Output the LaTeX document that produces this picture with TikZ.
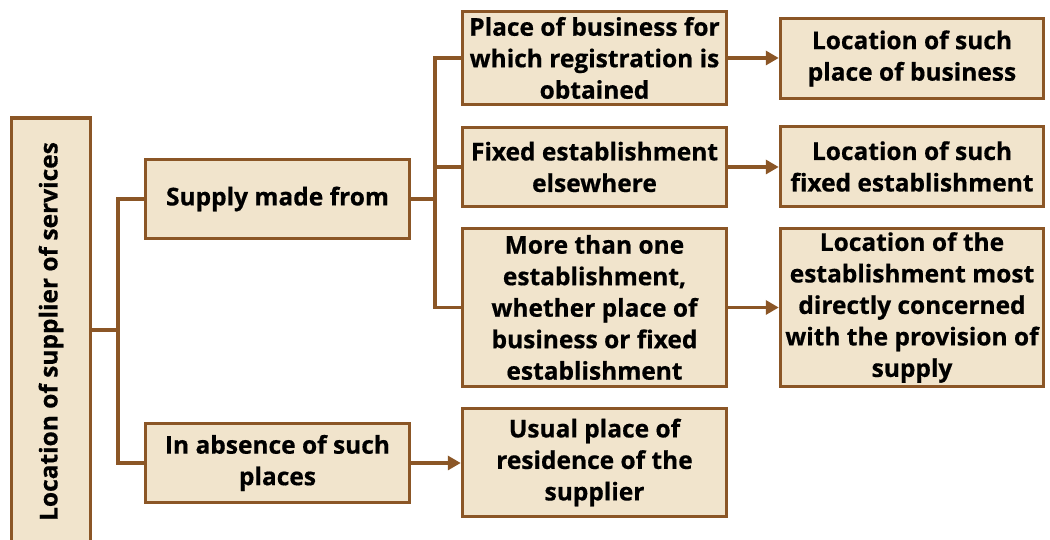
\documentclass[tikz,border=0pt]{standalone}
\usepackage{fontspec}
\setmainfont{Open Sans}[BoldFont={* Bold}, BoldFeatures={FakeBold=0.6}]
\usetikzlibrary{arrows.meta}
\definecolor{boxfill}{RGB}{241,228,204}
\definecolor{boxline}{RGB}{139,86,38}
\tikzset{
  box/.style={draw=boxline, fill=boxfill, line width=3.5pt, align=center, inner sep=0pt,
    font=\fontsize{24.5}{31.5}\selectfont\bfseries, text=black},
  conn/.style={draw=boxline, line width=3.5pt},
  arr/.style={conn, -{Triangle[length=13pt,width=14pt]}}
}
\begin{document}
\begin{tikzpicture}[x=1pt,y=1pt]
\useasboundingbox (0,0) rectangle (1050,540);
\node[box, rotate=90, minimum width=427pt, minimum height=79pt] (root) at (51,208.5) {Location of supplier of services};
\node[box, minimum width=264pt, minimum height=79pt] (supply) at (277.5,341) {Supply made from};
\node[box, minimum width=264pt, minimum height=79pt] (absence) at (277.5,77) {In absence of such\\places};
\node[box, minimum width=264pt, minimum height=93pt] (m1) at (594.5,482) {Place of business for\\which registration is\\obtained};
\node[box, minimum width=264pt, minimum height=79pt] (m2) at (594.5,373) {Fixed establishment\\elsewhere};
\node[box, minimum width=264pt, minimum height=158pt] (m3) at (594.5,232.5) {More than one\\establishment,\\whether place of\\business or fixed\\establishment};
\node[box, minimum width=264pt, minimum height=108pt] (m4) at (594.5,77.5) {Usual place of\\residence of the\\supplier};
\node[box, minimum width=263pt, minimum height=80pt] (r1) at (912,481.5) {Location of such\\place of business};
\node[box, minimum width=263pt, minimum height=80pt] (r2) at (912,373.5) {Location of such\\fixed establishment};
\node[box, minimum width=263pt, minimum height=158pt] (r3) at (912,232.5) {Location of the\\establishment most\\directly concerned\\with the provision of\\supply};
\coordinate (j1) at (118,210);
\coordinate (j2) at (435,341);
\draw[conn] (root.south |- j1) -- (j1);
\draw[conn] (supply.west) -| (j1) |- (absence.west);
\draw[conn] (supply.east) -- (j2);
\draw[conn] (m1.west) -| (j2) |- (m3.west);
\draw[conn] (m2.west) -- (m2.west -| j2);
\draw[arr] (m1.east) -- (m1.east -| r1.west);
\draw[arr] (m2.east) -- (m2.east -| r2.west);
\draw[arr] (m3.east) -- (m3.east -| r3.west);
\draw[arr] (absence.east) -- (absence.east -| m4.west);
\end{tikzpicture}
\end{document}
